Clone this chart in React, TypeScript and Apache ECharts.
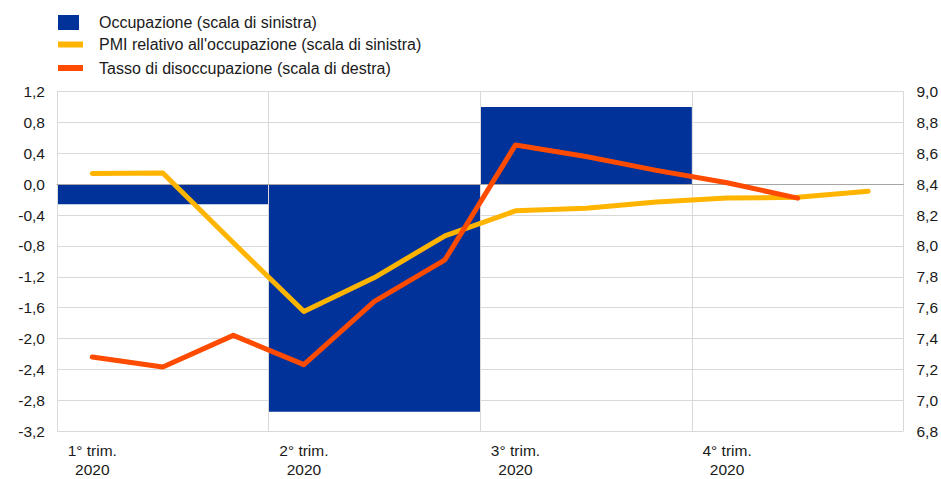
import React, { useEffect, useRef } from "react";
import * as echarts from "echarts";

const quarters = ["1° trim. 2020", "2° trim. 2020", "3° trim. 2020", "4° trim. 2020"];
const quarterLabels = ["1° trim.\n2020", "2° trim.\n2020", "3° trim.\n2020", "4° trim.\n2020"];
const months = ["gen", "feb", "mar", "apr", "mag", "giu", "lug", "ago", "set", "ott", "nov", "dic"];

const occupazione = [-0.26, -2.95, 1.0, null];
const pmi = [0.14, 0.145, -0.76, -1.65, -1.21, -0.67, -0.345, -0.31, -0.23, -0.18, -0.17, -0.09];
const disoccupazione = [7.28, 7.215, 7.42, 7.23, 7.64, 7.91, 8.655, 8.58, 8.49, 8.41, 8.31, null];

const seriesNames = [
  "Occupazione (scala di sinistra)",
  "PMI relativo all'occupazione (scala di sinistra)",
  "Tasso di disoccupazione (scala di destra)",
];

const BLUE = "#003299";
const YELLOW = "#FFB400";
const RED = "#FF4B00";
const FONT = "Liberation Sans, Arial, sans-serif";
const FS = 15.5;

const fmt = (v: number) => v.toFixed(1).replace(".", ",");

export default function App() {
  const ref = useRef<HTMLDivElement>(null);
  useEffect(() => {
    if (!ref.current) return;
    const chart = echarts.init(ref.current, undefined, { renderer: "svg" });
    const legendRows = [22, 44.5, 68];
    const legendGraphics: any[] = [
      { type: "rect", left: 58, top: 15, shape: { width: 21, height: 15 }, style: { fill: BLUE } },
      { type: "rect", left: 58, top: 41.5, shape: { width: 25, height: 6 }, style: { fill: YELLOW } },
      { type: "rect", left: 58, top: 65, shape: { width: 25, height: 6 }, style: { fill: RED } },
    ];
    seriesNames.forEach((n, i) => {
      legendGraphics.push({
        type: "text",
        x: 99,
        y: legendRows[i],
        style: { text: n, fill: "#1a1a1a", font: `16px ${FONT}`, verticalAlign: "middle" },
      });
    });
    chart.setOption({
      animation: false,
      textStyle: { fontFamily: FONT },
      graphic: legendGraphics,
      grid: { left: 57, right: 37, top: 91.7, bottom: 42.5, containLabel: false },
      xAxis: [
        {
          type: "category",
          data: quarters,
          boundaryGap: true,
          axisLine: { show: true, onZero: true, lineStyle: { color: "#a6a6a6", width: 1 } },
          axisTick: { show: false },
          axisLabel: { show: false },
          splitLine: { show: true, lineStyle: { color: "#d9d9d9", width: 1 } },
          z: 3,
        },
        {
          type: "category",
          data: months,
          position: "bottom",
          boundaryGap: true,
          axisLine: { show: false },
          axisTick: { show: false },
          splitLine: { show: false },
          axisLabel: {
            show: true,
            interval: 2,
            color: "#1a1a1a",
            fontSize: FS,
            fontFamily: FONT,
            lineHeight: 19,
            margin: 10,
            formatter: (_v: string, idx: number) => quarterLabels[Math.floor(idx / 3)],
          },
        },
      ],
      yAxis: [
        {
          type: "value",
          min: -3.2,
          max: 1.2,
          interval: 0.4,
          axisLine: { show: false },
          axisTick: { show: false },
          splitLine: { show: true, lineStyle: { color: "#d9d9d9", width: 1 } },
          axisLabel: { color: "#1a1a1a", fontSize: FS, fontFamily: FONT, margin: 12, formatter: fmt },
        },
        {
          type: "value",
          min: 6.8,
          max: 9.0,
          interval: 0.2,
          position: "right",
          axisLine: { show: false },
          axisTick: { show: false },
          splitLine: { show: false },
          axisLabel: { color: "#1a1a1a", fontSize: FS, fontFamily: FONT, margin: 13, formatter: fmt },
        },
      ],
      series: [
        {
          name: seriesNames[0],
          type: "bar",
          xAxisIndex: 0,
          yAxisIndex: 0,
          data: occupazione,
          barWidth: "100%",
          barCategoryGap: "0%",
          itemStyle: { color: BLUE },
          z: 1,
        },
        {
          name: seriesNames[1],
          type: "line",
          xAxisIndex: 1,
          yAxisIndex: 0,
          data: pmi,
          showSymbol: false,
          symbol: "none",
          lineStyle: { color: YELLOW, width: 5, cap: "round", join: "round" },
          itemStyle: { color: YELLOW },
          z: 4,
        },
        {
          name: seriesNames[2],
          type: "line",
          xAxisIndex: 1,
          yAxisIndex: 1,
          data: disoccupazione,
          showSymbol: false,
          symbol: "none",
          lineStyle: { color: RED, width: 5, cap: "round", join: "round" },
          itemStyle: { color: RED },
          z: 5,
        },
      ],
    });
    return () => chart.dispose();
  }, []);
  return <div ref={ref} style={{ width: 941, height: 479, position: "absolute", left: 0, top: 0 }} />;
}
